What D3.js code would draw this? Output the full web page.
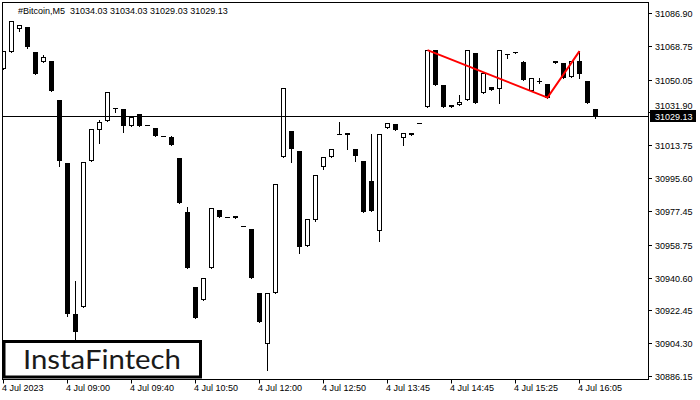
<!DOCTYPE html>
<html><head><meta charset="utf-8">
<script src="https://cdn.jsdelivr.net/npm/d3@7"></script>
<style>html,body{margin:0;padding:0;background:#fff;}svg{display:block;}</style>
</head><body>
<svg id="chart" width="700" height="400"></svg>
<script>
const symbolTitle = "#Bitcoin,M5  31034.03 31034.03 31029.03 31029.13";
const bidPrice = 31029.13;
const timeLabels = ["4 Jul 2023","4 Jul 09:00","4 Jul 09:40","4 Jul 10:50","4 Jul 12:00","4 Jul 12:50","4 Jul 13:45","4 Jul 14:45","4 Jul 15:25","4 Jul 16:05"];
const timeLabelBars = [0,8,16,24,32,40,48,56,64,72];
const priceTicks = [31086.90,31068.75,31050.05,31031.90,31013.75,30995.60,30977.45,30958.75,30940.60,30922.45,30904.30,30886.15];
const openV = [31055.66,31065.44,31077.78,31079.43,31065.44,31059.69,31060.63,31038.51,31003.67,30920.17,
 30924.43,31004.95,31022.09,31027.07,31034.09,31033.54,31024.30,31030.77,31024.69,31023.03,
 31018.90,31018.60,31006.44,30976.58,30935.10,30928.08,30945.77,30977.68,30973.81,30974.36,
 30968.83,30967.18,30931.78,30903.97,30932.17,31007.38,31021.37,31010.31,30957.94,30972.32,
 31001.63,31007.38,31020.10,31020.26,31011.80,31004.78,30993.72,30966.24,31023.19,31025.79,
 31017.66,31020.26,31026.18,31035.03,31066.33,31046.97,31035.03,31036.13,31038.68,31064.89,
 31042.77,31046.09,31044.98,31064.12,31065.44,31059.69,31043.66,31049.57,31047.36,31060.47,
 31059.36,31051.62,31060.25,31049.57,31034.03];
const highV = [31065.61,31082.75,31080.54,31079.43,31065.44,31063.56,31060.63,31038.51,31003.67,30938.42,
 31004.61,31022.86,31027.62,31043.32,31034.09,31033.54,31029.50,31030.77,31024.69,31023.03,
 31018.90,31018.98,31006.44,30979.51,30935.10,30940.47,30978.79,30977.68,30973.81,30974.36,
 30968.83,30967.18,30931.78,30931.78,30992.06,31045.54,31021.37,31010.31,30972.71,30997.42,
 31007.54,31011.80,31026.51,31020.26,31011.80,31004.78,31019.71,31019.71,31026.18,31025.79,
 31020.26,31020.26,31026.18,31066.33,31066.33,31046.97,31036.13,31041.28,31066.33,31064.89,
 31053.83,31046.09,31066.33,31064.12,31065.44,31060.08,31051.07,31050.68,31047.36,31060.47,
 31059.36,31060.63,31065.78,31049.57,31034.03];
const lowV = [31055.66,31065.44,31077.22,31067.66,31052.89,31059.69,31043.66,31002.18,30919.34,30906.35,
 30924.43,31004.95,31015.12,31027.07,31032.26,31020.98,31024.30,31024.30,31024.69,31018.77,
 31018.90,31013.79,30981.55,30945.77,30918.12,30928.08,30945.77,30973.98,30973.81,30973.42,
 30968.83,30940.24,30915.91,30889.37,30932.17,31007.38,31004.39,30953.90,30957.94,30971.77,
 31000.36,31007.38,31020.10,31011.42,31004.95,30976.74,30977.13,30960.71,31023.19,31021.92,
 31013.79,31019.32,31026.18,31035.03,31046.97,31035.03,31035.03,31036.13,31038.68,31037.24,
 31042.77,31044.21,31037.24,31062.13,31064.89,31049.74,31043.66,31048.30,31040.01,31059.14,
 31051.07,31051.62,31051.07,31037.24,31029.03];
const closeV = [31065.61,31082.75,31079.99,31068.37,31052.89,31062.68,31043.66,31004.78,30920.17,30910.22,
 31004.61,31022.86,31026.73,31043.32,31034.09,31024.30,31029.50,31024.30,31024.69,31018.77,
 31018.90,31013.79,30981.55,30945.77,30918.12,30940.47,30978.79,30973.98,30973.81,30973.42,
 30968.83,30940.24,30915.91,30931.78,30992.06,31045.54,31011.58,30957.39,30972.71,30997.42,
 31006.99,31011.80,31020.10,31019.54,31007.71,30976.74,30977.13,31019.71,31026.18,31021.92,
 31020.26,31019.32,31026.18,31066.33,31046.97,31035.03,31036.13,31037.57,31066.33,31037.24,
 31053.83,31044.21,31066.33,31063.56,31064.89,31049.74,31051.07,31049.57,31040.01,31059.14,
 31051.07,31060.63,31053.28,31037.24,31029.13];
const patternBars = [53,68,72];
const patternPrices = [31066.40,31040.10,31065.80];
const logoText = "InstaFintech";

const svg = d3.select("#chart");
const L = 2.5, T = 2.5, R = 648.5, B = 379.5;
const FONT = "Liberation Sans, Arial, sans-serif";
const FS = 9;
const x = d3.scaleLinear().domain([0,80]).range([3,643]);
const y = d3.scaleLinear().domain([30886.15,31086.90]).range([376,13]);

svg.append("rect").attr("width",700).attr("height",400).attr("fill","#fff");
const defs = svg.append("defs");
defs.append("clipPath").attr("id","plotclip")
  .append("rect").attr("x",L+0.5).attr("y",T+0.5).attr("width",R-L-1).attr("height",B-T-1);

const plot = svg.append("g").attr("clip-path","url(#plotclip)");
const data = openV.map((o,i)=>({i,o,h:highV[i],l:lowV[i],c:closeV[i]}));

// wicks
plot.selectAll("line.wick").data(data).join("line").attr("class","wick")
  .attr("x1",d=>x(d.i)+0.5).attr("x2",d=>x(d.i)+0.5)
  .attr("y1",d=>Math.round(y(d.h))).attr("y2",d=>Math.round(y(d.l))+1)
  .attr("stroke","#000").attr("stroke-width",1);

// bodies
data.forEach(d=>{
  const yt = Math.round(y(Math.max(d.o,d.c))), yb = Math.round(y(Math.min(d.o,d.c)));
  if (d.c > d.o && yb - yt >= 2) {
    plot.append("rect").attr("x",x(d.i)-1.5).attr("y",yt+0.5).attr("width",4).attr("height",yb-yt-1)
      .attr("fill","#fff").attr("stroke","#000").attr("stroke-width",1);
  } else {
    plot.append("rect").attr("x",x(d.i)-2).attr("y",yt).attr("width",5).attr("height",Math.max(1,yb-yt))
      .attr("fill","#000");
  }
});

// bid line
const by = Math.round(y(bidPrice));
plot.append("line").attr("x1",L).attr("x2",R).attr("y1",by-0.5).attr("y2",by-0.5)
  .attr("stroke","#000").attr("stroke-width",1);

// pattern line
const line = d3.line().x(d=>x(d[0])+0.5).y(d=>y(d[1]));
plot.append("path").datum(patternBars.map((b,k)=>[b,patternPrices[k]]))
  .attr("d",line).attr("fill","none").attr("stroke","#ff0000").attr("stroke-width",2);

// frame
svg.append("rect").attr("x",L).attr("y",T).attr("width",R-L).attr("height",B-T)
  .attr("fill","none").attr("stroke","#000").attr("stroke-width",1);

// right axis
const ya = svg.append("g").attr("font-family",FONT).attr("font-size",FS);
priceTicks.forEach(p=>{
  const yy = Math.round(y(p))+0.5;
  ya.append("line").attr("x1",R).attr("x2",R+3.5).attr("y1",yy).attr("y2",yy).attr("stroke","#000");
  // a label that would sit under the bid box is nudged just above it
  const ty = (Math.abs(yy - by) < 9) ? by - 8.5 : yy + 3.5;
  ya.append("text").attr("x",655).attr("y",ty).attr("fill","#000").text(d3.format(".2f")(p));
});
// bid label
svg.append("rect").attr("x",650).attr("y",by-7).attr("width",46).attr("height",12).attr("fill","#000");
svg.append("text").attr("x",655).attr("y",by+2.5).attr("fill","#fff")
  .attr("font-family",FONT).attr("font-size",FS).text(d3.format(".2f")(bidPrice));

// bottom axis
const xa = svg.append("g").attr("font-family",FONT).attr("font-size",FS);
timeLabelBars.forEach((b,k)=>{
  const xx = x(b)+0.5;
  xa.append("line").attr("x1",xx).attr("x2",xx).attr("y1",B).attr("y2",B+4).attr("stroke","#000");
  xa.append("text").attr("x",xx-1.5).attr("y",391).attr("fill","#000").text(timeLabels[k]);
});

// title
svg.append("text").attr("x",18).attr("y",14).attr("fill","#000")
  .attr("font-family",FONT).attr("font-size",FS)
  .style("white-space","pre").text(symbolTitle);

// logo
svg.append("rect").attr("x",4).attr("y",341.5).attr("width",196.5).attr("height",35.5)
  .attr("fill","#fff").attr("stroke","#000").attr("stroke-width",3);
svg.append("text").attr("x",102).attr("y",369).attr("text-anchor","middle")
  .attr("font-family","Lato, 'Open Sans', sans-serif").attr("font-size",27.5).attr("fill","#1a1a1a")
  .attr("textLength",158).attr("lengthAdjust","spacingAndGlyphs").text(logoText);
</script>
</body></html>
